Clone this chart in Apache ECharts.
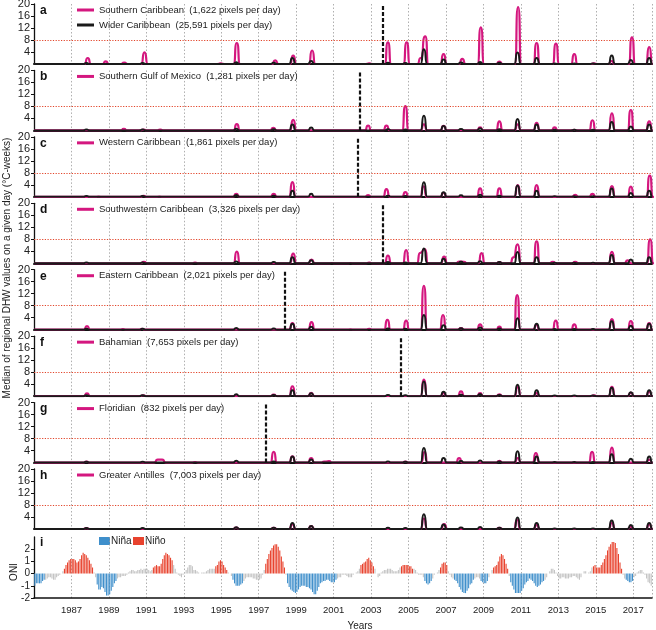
<!DOCTYPE html>
<html><head><meta charset="utf-8">
<script src="https://cdn.jsdelivr.net/npm/echarts@6/dist/echarts.min.js"></script>
<style>html,body{margin:0;padding:0;background:#fff}#c{width:656px;height:630px}</style>
</head><body><div id="c"></div>
<script>
// ---------------- DATA ----------------
const panelLetters = ['a','b','c','d','e','f','g','h'];
const panelNames = [
  'Southern Caribbean  (1,622 pixels per day)',
  'Southern Gulf of Mexico  (1,281 pixels per day)',
  'Western Caribbean  (1,861 pixels per day)',
  'Southwestern Caribbean  (3,326 pixels per day)',
  'Eastern Caribbean  (2,021 pixels per day)',
  'Bahamian  (7,653 pixels per day)',
  'Floridian  (832 pixels per day)',
  'Greater Antilles  (7,003 pixels per day)'
];
const widerName = 'Wider Caribbean  (25,591 pixels per day)';
const shiftYears = [2003.6, 2002.4, 2002.3, 2003.6, 1998.4, 2004.6, 1997.4, null];

// peaks of the regional median DHW: [year, °C-weeks]
const southernCaribbean = [[1987.87,2.0],[1988.83,0.9],[1989.82,0.5],[1990.9,3.9],[1994.97,0.2],[1995.83,7.0],[1997.88,1.2],[1998.84,2.8],[1999.85,4.5],[2002.9,0.2],[2003.9,7.2],[2004.9,7.2],[2005.65,2.0],[2005.89,9.2],[2006.87,3.3],[2007.87,1.7],[2008.86,12.2],[2009.85,0.8],[2010.85,19.0],[2011.84,7.0],[2012.87,6.8],[2013.85,3.3],[2014.9,0.2],[2015.84,1.0],[2016.93,8.9],[2017.85,5.6]];
const southernGulf = [[1989.8,0.5],[1990.85,0.3],[1991.74,0.3],[1995.83,2.1],[1997.78,0.9],[1998.84,3.5],[2002.84,1.6],[2003.82,1.6],[2004.83,8.1],[2005.82,2.0],[2006.87,1.5],[2008.82,1.0],[2009.85,3.0],[2010.83,2.0],[2011.84,2.5],[2012.8,1.0],[2013.85,0.2],[2014.82,3.4],[2015.86,5.7],[2016.87,6.8],[2017.85,3.0]];
const westernCaribbean = [[1988.45,0.1],[1990.85,0.3],[1991.7,0.1],[1995.8,1.0],[1997.8,1.0],[1998.8,4.9],[2002.84,0.6],[2003.82,2.6],[2004.83,1.6],[2005.8,3.5],[2006.87,1.3],[2008.82,2.8],[2009.85,2.8],[2010.83,3.9],[2011.84,3.9],[2013.9,0.7],[2014.82,1.0],[2015.86,3.6],[2016.87,3.4],[2017.88,7.1]];
const southwesternCaribbean = [[1990.87,0.5],[1993.6,0.2],[1995.83,3.9],[1998.84,3.2],[1999.82,1.2],[2000.9,0.1],[2001.9,0.1],[2002.9,0.2],[2003.9,2.6],[2004.87,4.4],[2005.62,3.5],[2005.87,4.7],[2006.9,2.2],[2007.7,0.6],[2007.95,0.5],[2008.9,3.4],[2009.85,0.4],[2010.6,2.0],[2010.83,6.3],[2011.84,7.3],[2012.7,0.5],[2013.9,0.5],[2015.86,3.8],[2016.7,1.0],[2017.9,8.0]];
const easternCaribbean = [[1987.83,1.2],[1989.75,0.2],[1990.77,0.3],[1998.8,2.2],[1999.82,2.5],[2001.9,0.1],[2002.9,0.3],[2003.87,3.3],[2004.87,3.0],[2005.82,14.6],[2006.84,4.9],[2007.8,0.5],[2008.82,1.8],[2009.85,1.0],[2010.8,11.5],[2011.83,1.5],[2012.86,3.0],[2013.85,1.8],[2015.86,3.5],[2016.87,2.9],[2017.85,2.2]];
const bahamian = [[1987.83,0.9],[1990.83,0.3],[1997.8,0.5],[1998.8,3.3],[1999.8,1.1],[2005.82,5.5],[2006.87,1.0],[2007.8,1.6],[2008.82,1.0],[2009.85,0.6],[2010.83,3.0],[2011.84,1.0],[2014.9,0.3],[2015.86,3.1],[2016.87,1.2],[2017.85,1.5]];
const floridian = [[1987.8,0.3],[1991.6,1.0],[1991.85,1.0],[1993.6,0.2],[1997.8,3.6],[1998.8,2.1],[1999.8,1.5],[2000.5,0.3],[2000.75,0.5],[2004.83,0.3],[2005.85,3.5],[2007.7,1.5],[2009.85,0.6],[2010.83,1.5],[2011.8,3.2],[2014.8,3.6],[2015.86,5.0],[2017.85,1.0]];
const greaterAntilles = [[1987.8,0.3],[1995.8,0.5],[1997.8,0.4],[1998.8,1.5],[1999.8,1.0],[2005.82,3.5],[2006.9,1.6],[2009.85,0.4],[2010.8,3.0],[2011.84,1.3],[2015.86,2.0],[2016.87,0.8],[2017.85,1.5]];
const widerCaribbean = [[1987.8,0.3],[1990.8,0.3],[1995.8,0.6],[1997.8,0.4],[1998.8,2.0],[1999.8,1.0],[2003.9,0.4],[2004.83,0.3],[2005.82,4.9],[2006.87,1.5],[2007.8,0.5],[2008.82,0.7],[2009.85,0.4],[2010.82,3.8],[2011.84,2.0],[2012.8,0.2],[2013.85,0.2],[2014.85,0.2],[2015.85,2.8],[2016.87,1.3],[2017.85,2.0]];
const regional = [southernCaribbean, southernGulf, westernCaribbean, southwesternCaribbean, easternCaribbean, bahamian, floridian, greaterAntilles];

// Oceanic Niño Index, 3-month running means (DJF ... NDJ), 1985-2017
const oniStartYear = 1985;
const oniValues = [
-1.0,-0.8,-0.8,-0.8,-0.8,-0.6,-0.5,-0.5,-0.4,-0.3,-0.3,-0.4,
-0.5,-0.5,-0.3,-0.2,-0.1,0.0,0.2,0.4,0.7,0.9,1.1,1.2,
1.2,1.2,1.1,0.9,1.0,1.2,1.5,1.7,1.6,1.5,1.3,1.1,
0.8,0.5,0.1,-0.3,-0.9,-1.3,-1.3,-1.1,-1.2,-1.5,-1.8,-1.8,
-1.7,-1.4,-1.1,-0.8,-0.6,-0.4,-0.3,-0.3,-0.2,-0.2,-0.2,-0.1,
0.1,0.2,0.3,0.3,0.2,0.2,0.3,0.3,0.4,0.3,0.4,0.4,
0.4,0.3,0.2,0.3,0.5,0.6,0.7,0.6,0.6,0.8,1.2,1.5,
1.7,1.6,1.5,1.3,1.1,0.7,0.4,0.1,-0.1,-0.2,-0.3,-0.1,
0.1,0.3,0.5,0.7,0.7,0.6,0.3,0.3,0.2,0.1,0.0,0.1,
0.1,0.1,0.2,0.3,0.4,0.4,0.4,0.4,0.6,0.7,1.0,1.1,
1.0,0.7,0.5,0.3,0.1,0.0,-0.2,-0.5,-0.8,-1.0,-1.0,-1.0,
-0.9,-0.8,-0.6,-0.4,-0.3,-0.3,-0.3,-0.3,-0.4,-0.4,-0.5,-0.5,
-0.5,-0.4,-0.1,0.3,0.8,1.2,1.6,1.9,2.1,2.3,2.4,2.4,
2.2,1.9,1.4,1.0,0.5,-0.1,-0.8,-1.1,-1.3,-1.4,-1.5,-1.6,
-1.5,-1.3,-1.1,-1.0,-1.0,-1.0,-1.1,-1.1,-1.2,-1.3,-1.5,-1.7,
-1.7,-1.4,-1.1,-0.8,-0.7,-0.6,-0.6,-0.5,-0.5,-0.6,-0.7,-0.7,
-0.7,-0.5,-0.4,-0.3,-0.3,-0.1,-0.1,-0.1,-0.2,-0.3,-0.3,-0.3,
-0.1,0.0,0.1,0.2,0.4,0.7,0.8,0.9,1.0,1.2,1.3,1.1,
0.9,0.6,0.4,0.0,-0.3,-0.2,0.1,0.2,0.3,0.3,0.4,0.4,
0.4,0.3,0.2,0.2,0.2,0.3,0.5,0.6,0.7,0.7,0.7,0.7,
0.6,0.6,0.4,0.4,0.3,0.1,-0.1,-0.1,-0.1,-0.3,-0.6,-0.8,
-0.9,-0.8,-0.6,-0.4,-0.1,0.0,0.1,0.3,0.5,0.8,0.9,0.9,
0.7,0.2,-0.1,-0.3,-0.4,-0.5,-0.6,-0.8,-1.1,-1.3,-1.5,-1.6,
-1.6,-1.4,-1.2,-0.9,-0.8,-0.5,-0.4,-0.3,-0.3,-0.4,-0.6,-0.7,
-0.8,-0.8,-0.6,-0.3,0.0,0.3,0.5,0.6,0.7,1.0,1.4,1.6,
1.5,1.2,0.8,0.4,-0.2,-0.7,-1.0,-1.3,-1.6,-1.6,-1.6,-1.6,
-1.4,-1.2,-0.9,-0.7,-0.6,-0.4,-0.5,-0.6,-0.8,-1.0,-1.1,-1.0,
-0.9,-0.7,-0.6,-0.5,-0.3,0.0,0.2,0.4,0.4,0.3,0.1,-0.2,
-0.4,-0.4,-0.3,-0.3,-0.4,-0.4,-0.4,-0.3,-0.3,-0.2,-0.2,-0.3,
-0.4,-0.5,-0.3,0.0,0.2,0.2,0.0,0.1,0.2,0.5,0.6,0.7,
0.5,0.5,0.5,0.7,0.9,1.2,1.5,1.9,2.2,2.4,2.6,2.6,
2.5,2.1,1.6,0.9,0.4,-0.1,-0.4,-0.5,-0.6,-0.7,-0.7,-0.6,
-0.3,-0.2,0.1,0.2,0.3,0.3,0.1,-0.1,-0.4,-0.7,-0.8,-1.0
];
const ninoPeriods = [[1986.6,1988.15],[1991.35,1992.45],[1994.7,1995.3],[1997.35,1998.45],[2002.4,2003.2],[2004.55,2005.25],[2006.7,2007.1],[2009.5,2010.35],[2014.85,2016.45]];
const ninaPeriods = [[1985.0,1985.6],[1988.35,1989.45],[1995.55,1996.2],[1998.5,2001.2],[2005.8,2006.25],[2007.45,2008.5],[2008.8,2009.25],[2010.45,2012.25],[2016.55,2017.0]];

// ---------------- STYLE / LAYOUT ----------------
const PINK = '#d4177f', BLACK = '#1a1a1a', RED = '#e8432e', BLUE = '#3f8fcb', GRAY = '#c4c4c4';
const FONT = '"Liberation Sans", Arial, sans-serif';
const X0 = 1985, X1 = 2018;
const LEFT = 34, RIGHT = 4, PH = 60, PITCH = 66.43, TOP0 = 4;
const tops = panelLetters.map((_, i) => TOP0 + PITCH * i);
const oniTop = 537, oniH = 61;

function bumps(peaks) {
  const w = 0.18, out = [[X0, 0]];
  peaks.forEach((p, i) => {
    const prev = peaks[i - 1], next = peaks[i + 1];
    if (!prev || p[0] - prev[0] > 2 * w) out.push([p[0] - w, 0]);
    out.push([p[0], p[1]]);
    if (!next || next[0] - p[0] > 2 * w) out.push([p[0] + w, 0]);
  });
  out.push([X1, 0]);
  return out;
}
function inPeriods(t, list) { return list.some(p => t >= p[0] && t <= p[1]); }

const grids = [], xAxes = [], yAxes = [], series = [], legends = [], graphics = [];
const gridSplit = { show: true, lineStyle: { color: '#9a9a9a', type: [1.5, 2], width: 0.8 } };

panelLetters.forEach((L, i) => {
  grids.push({ left: LEFT, right: RIGHT, top: tops[i], height: PH, containLabel: false, outerBoundsMode: 'none' });
  xAxes.push({ gridIndex: i, type: 'value', min: X0, max: X1, interval: 2,
    axisLine: { show: true, onZero: false, lineStyle: { color: '#111', width: 2 } },
    axisTick: { show: false }, axisLabel: { show: false }, splitLine: gridSplit });
  yAxes.push({ gridIndex: i, type: 'value', min: 0, max: 20, interval: 4,
    axisLine: { show: true, lineStyle: { color: '#111', width: 1.3 } },
    axisTick: { show: true, length: 3, lineStyle: { color: '#111', width: 1 } },
    axisLabel: { showMinLabel: false, fontSize: 11, color: '#222', margin: 4, fontFamily: FONT },
    splitLine: { show: false } });
  const mk = [{ yAxis: 8, lineStyle: { color: '#e2452a', type: [1.2, 1.5], width: 1 } }];
  if (shiftYears[i] !== null) mk.push({ xAxis: shiftYears[i], lineStyle: { color: '#111', type: [4, 2], width: 2.2 } });
  series.push({ name: panelNames[i], type: 'line', xAxisIndex: i, yAxisIndex: i,
    data: bumps(regional[i]), smooth: 0.8, smoothMonotone: 'x', showSymbol: false, symbol: 'none',
    lineStyle: { color: PINK, width: 2.2 }, itemStyle: { color: PINK }, z: 3, animation: false,
    markLine: { silent: true, symbol: 'none', label: { show: false }, animation: false, data: mk } });
  series.push({ name: widerName, type: 'line', xAxisIndex: i, yAxisIndex: i,
    data: bumps(widerCaribbean), smooth: 0.8, smoothMonotone: 'x', showSymbol: false, symbol: 'none',
    lineStyle: { color: BLACK, width: 2 }, itemStyle: { color: BLACK }, z: 4, animation: false });
  legends.push({ left: 77, top: tops[i] + 0.5, orient: 'vertical', icon: 'rect', itemWidth: 17, itemHeight: 3,
    itemGap: 4, selectedMode: false, padding: 0,
    data: i === 0 ? [panelNames[i], widerName] : [panelNames[i]],
    textStyle: { fontSize: 9.5, color: '#222', fontFamily: FONT, lineHeight: 11 } });
  graphics.push({ type: 'text', left: 40, top: tops[i] + 0.5,
    style: { text: L, font: 'bold 12px ' + FONT, fill: '#111' } });
});

// ONI panel
const oi = 8;
grids.push({ left: LEFT, right: RIGHT, top: oniTop, height: oniH, containLabel: false, outerBoundsMode: 'none' });
xAxes.push({ gridIndex: oi, type: 'value', min: X0, max: X1, interval: 2,
  axisLine: { show: true, onZero: false, lineStyle: { color: '#111', width: 1.5 } },
  axisTick: { show: false },
  axisLabel: { fontSize: 9.5, color: '#222', margin: 7, fontFamily: FONT,
    formatter: v => (v >= 1987 && v <= 2017 && v % 2 === 1) ? String(v) : '' },
  splitLine: gridSplit });
yAxes.push({ gridIndex: oi, type: 'value', min: -2, max: 3, interval: 1,
  axisLine: { show: true, lineStyle: { color: '#111', width: 1.3 } },
  axisTick: { show: true, length: 3, lineStyle: { color: '#111' } },
  axisLabel: { showMaxLabel: false, fontSize: 10, color: '#222', margin: 4, fontFamily: FONT },
  splitLine: { show: false } });
const oniData = oniValues.map((v, k) => {
  const t = oniStartYear + (k + 0.5) / 12;
  const c = inPeriods(t, ninoPeriods) ? RED : (inPeriods(t, ninaPeriods) ? BLUE : GRAY);
  return { value: [t, v], itemStyle: { color: c } };
});
series.push({ name: 'ONI', type: 'bar', xAxisIndex: oi, yAxisIndex: oi, data: oniData,
  barWidth: 1.1, animation: false });

graphics.push({ type: 'text', left: 40, top: oniTop, style: { text: 'i', font: 'bold 12px ' + FONT, fill: '#111' } });
graphics.push({ type: 'rect', shape: { x: 99, y: 537, width: 11, height: 8 }, style: { fill: BLUE } });
graphics.push({ type: 'text', x: 111, y: 541, style: { text: 'Niña', font: '10px ' + FONT, fill: '#222', verticalAlign: 'middle' } });
graphics.push({ type: 'rect', shape: { x: 133, y: 537, width: 11, height: 8 }, style: { fill: RED } });
graphics.push({ type: 'text', x: 145, y: 541, style: { text: 'Niño', font: '10px ' + FONT, fill: '#222', verticalAlign: 'middle' } });
graphics.push({ type: 'text', x: 7, y: 268, rotation: Math.PI / 2,
  style: { text: 'Median of regional DHW values on a given day (°C-weeks)', font: '10px ' + FONT,
    fill: '#222', align: 'center', verticalAlign: 'middle' } });
graphics.push({ type: 'text', x: 14, y: 572, rotation: Math.PI / 2,
  style: { text: 'ONI', font: '10px ' + FONT, fill: '#222', align: 'center', verticalAlign: 'middle' } });
graphics.push({ type: 'text', x: 360, y: 626,
  style: { text: 'Years', font: '10px ' + FONT, fill: '#222', align: 'center', verticalAlign: 'middle' } });

const chart = echarts.init(document.getElementById('c'), null, { renderer: 'canvas' });
chart.setOption({ animation: false, backgroundColor: '#fff', grid: grids, xAxis: xAxes, yAxis: yAxes,
  series: series, legend: legends, graphic: graphics });
</script></body></html>
